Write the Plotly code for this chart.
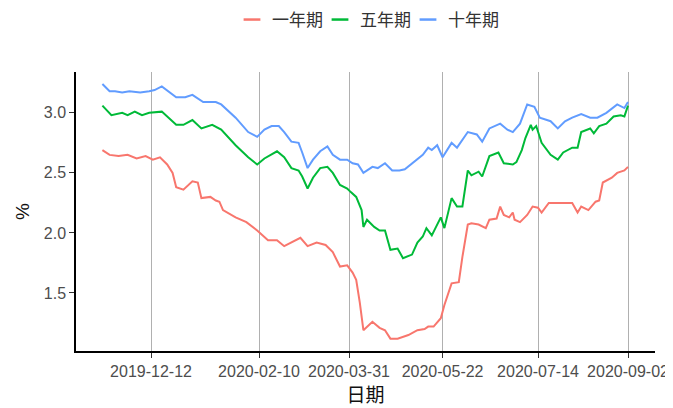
import plotly.graph_objects as go

# ---- data ----
dates_1y = ["2019-11-15","2019-11-19","2019-11-24","2019-11-29","2019-12-04","2019-12-09","2019-12-13","2019-12-17",
            "2019-12-21","2019-12-24","2019-12-26","2019-12-30","2020-01-04","2020-01-07","2020-01-09","2020-01-14",
            "2020-01-17","2020-01-19","2020-01-21","2020-01-28","2020-02-03","2020-02-09","2020-02-15","2020-02-20",
            "2020-02-24","2020-02-29","2020-03-04","2020-03-08","2020-03-13","2020-03-18","2020-03-22","2020-03-26",
            "2020-03-30","2020-04-02","2020-04-04","2020-04-06","2020-04-08","2020-04-13","2020-04-17","2020-04-20",
            "2020-04-23","2020-04-27","2020-04-29","2020-05-03","2020-05-08","2020-05-12","2020-05-14","2020-05-17",
            "2020-05-21","2020-05-23","2020-05-27","2020-05-31","2020-06-02","2020-06-05","2020-06-07","2020-06-11",
            "2020-06-15","2020-06-17","2020-06-21","2020-06-23","2020-06-25","2020-06-28","2020-06-30","2020-07-01",
            "2020-07-04","2020-07-08","2020-07-11","2020-07-14","2020-07-16","2020-07-20","2020-07-25","2020-07-29",
            "2020-08-02","2020-08-05","2020-08-07","2020-08-11","2020-08-15","2020-08-17","2020-08-19","2020-08-24",
            "2020-08-27","2020-08-31","2020-09-02"]
vals_1y = [2.69,2.65,2.64,2.65,2.62,2.64,2.61,2.63,
           2.57,2.50,2.38,2.36,2.43,2.42,2.29,2.30,
           2.27,2.26,2.19,2.13,2.09,2.02,1.94,1.94,
           1.89,1.93,1.96,1.89,1.92,1.90,1.84,1.72,
           1.73,1.67,1.61,1.42,1.19,1.26,1.21,1.19,
           1.12,1.12,1.13,1.15,1.19,1.20,1.22,1.22,
           1.29,1.40,1.58,1.59,1.80,2.07,2.08,2.07,
           2.04,2.11,2.12,2.22,2.15,2.13,2.17,2.11,
           2.09,2.15,2.22,2.21,2.17,2.25,2.25,2.25,
           2.25,2.17,2.22,2.19,2.26,2.27,2.42,2.46,
           2.50,2.52,2.55]

dates_5y = ["2019-11-15","2019-11-20","2019-11-26","2019-11-29","2019-12-03","2019-12-07","2019-12-11","2019-12-18",
            "2019-12-26","2019-12-30","2020-01-04","2020-01-09","2020-01-15","2020-01-20","2020-01-28","2020-02-04",
            "2020-02-09","2020-02-13","2020-02-20","2020-02-24","2020-02-28","2020-03-03","2020-03-05","2020-03-08",
            "2020-03-11","2020-03-15","2020-03-19","2020-03-22","2020-03-26","2020-03-30","2020-04-01","2020-04-04",
            "2020-04-07","2020-04-08","2020-04-10","2020-04-14","2020-04-17","2020-04-20","2020-04-23","2020-04-27",
            "2020-04-30","2020-05-05","2020-05-08","2020-05-11","2020-05-13","2020-05-16","2020-05-21","2020-05-23",
            "2020-05-27","2020-05-30","2020-06-02","2020-06-05","2020-06-07","2020-06-11","2020-06-13","2020-06-17",
            "2020-06-22","2020-06-25","2020-06-30","2020-07-02","2020-07-05","2020-07-07","2020-07-10","2020-07-11",
            "2020-07-13","2020-07-16","2020-07-21","2020-07-25","2020-07-28","2020-08-02","2020-08-05","2020-08-07",
            "2020-08-12","2020-08-14","2020-08-17","2020-08-21","2020-08-25","2020-08-29","2020-08-31","2020-09-02"]
vals_5y = [3.06,2.98,3.00,2.98,3.01,2.98,3.00,3.01,
           2.90,2.90,2.94,2.87,2.90,2.86,2.73,2.63,
           2.57,2.62,2.68,2.63,2.54,2.52,2.47,2.37,
           2.46,2.54,2.55,2.50,2.40,2.37,2.34,2.30,
           2.19,2.05,2.11,2.05,2.02,2.02,1.86,1.87,
           1.79,1.82,1.92,1.97,2.04,1.98,2.13,2.04,
           2.29,2.22,2.22,2.52,2.48,2.51,2.47,2.64,
           2.67,2.58,2.57,2.59,2.69,2.79,2.90,2.86,
           2.89,2.75,2.65,2.61,2.67,2.71,2.71,2.84,
           2.87,2.83,2.89,2.91,2.97,2.98,2.97,3.06]

dates_10y = ["2019-11-15","2019-11-19","2019-11-22","2019-11-26","2019-11-30","2019-12-06","2019-12-11","2019-12-14",
             "2019-12-18","2019-12-23","2019-12-26","2019-12-31","2020-01-04","2020-01-10","2020-01-17","2020-01-20",
             "2020-01-28","2020-02-04","2020-02-09","2020-02-13","2020-02-17","2020-02-21","2020-02-24","2020-02-28",
             "2020-03-03","2020-03-05","2020-03-08","2020-03-11","2020-03-15","2020-03-19","2020-03-22","2020-03-26",
             "2020-03-30","2020-04-02","2020-04-05","2020-04-08","2020-04-13","2020-04-16","2020-04-20","2020-04-24",
             "2020-04-28","2020-05-01","2020-05-05","2020-05-08","2020-05-11","2020-05-14","2020-05-16","2020-05-19",
             "2020-05-22","2020-05-27","2020-05-30","2020-06-05","2020-06-10","2020-06-13","2020-06-17","2020-06-23",
             "2020-06-27","2020-06-30","2020-07-04","2020-07-08","2020-07-12","2020-07-15","2020-07-21","2020-07-25",
             "2020-07-29","2020-08-02","2020-08-07","2020-08-12","2020-08-16","2020-08-21","2020-08-27","2020-08-31",
             "2020-09-02"]
vals_10y = [3.24,3.18,3.18,3.17,3.18,3.17,3.18,3.19,
            3.22,3.16,3.13,3.13,3.15,3.09,3.09,3.07,
            2.96,2.84,2.80,2.86,2.89,2.89,2.84,2.76,
            2.75,2.67,2.54,2.61,2.68,2.72,2.65,2.61,
            2.61,2.58,2.57,2.50,2.55,2.54,2.58,2.52,
            2.52,2.53,2.58,2.62,2.65,2.71,2.69,2.73,
            2.63,2.75,2.71,2.84,2.82,2.76,2.87,2.91,
            2.86,2.84,2.91,3.07,3.05,2.96,2.93,2.87,
            2.93,2.96,2.99,2.96,2.96,3.00,3.07,3.04,
            3.09]

series_names = ["一年期", "五年期", "十年期"]
series_colors = ["#F8766D", "#00BA38", "#619CFF"]

x_tick_vals = ["2019-12-12", "2020-02-10", "2020-03-31", "2020-05-22", "2020-07-14", "2020-09-02"]
y_tick_vals = [1.5, 2.0, 2.5, 3.0]
y_tick_text = ["1.5", "2.0", "2.5", "3.0"]

FONT = "Liberation Sans, Arial, Noto Sans CJK SC, sans-serif"

fig = go.Figure()
for name, color, xs, ys in zip(series_names, series_colors,
                               [dates_1y, dates_5y, dates_10y],
                               [vals_1y, vals_5y, vals_10y]):
    fig.add_trace(go.Scatter(x=xs, y=ys, mode="lines", name=name,
                             line=dict(color=color, width=2), showlegend=False))
    # legend entry with a short dash
    fig.add_trace(go.Scatter(x=[None], y=[None], mode="markers", name=name,
                             marker=dict(symbol="line-ew", size=12, color=color,
                                         line=dict(color=color, width=2.5)),
                             showlegend=True))
# empty trailing legend slot so the last (narrow-entry) label is not clipped
fig.add_trace(go.Scatter(x=[None], y=[None], mode="markers", name=" ",
                         marker=dict(size=1, color="rgba(0,0,0,0)"),
                         showlegend=True, hoverinfo="skip"))

# the page body adds an 8 px offset, so the figure is 8 px smaller each way
W, H = 665, 400
fig.update_layout(
    width=W, height=H,
    margin=dict(l=68, r=18, t=64, b=57, autoexpand=False),
    paper_bgcolor="white", plot_bgcolor="white",
    font=dict(family=FONT, size=15, color="#4D4D4D"),
    legend=dict(orientation="h", x=224 / W, xanchor="left", xref="container",
                y=1 - 12 / H, yanchor="middle", yref="container",
                font=dict(size=17, color="#333333"), itemwidth=30,
                entrywidth=43, entrywidthmode="pixels",
                tracegroupgap=0, itemsizing="trace"),
    xaxis=dict(
        type="date", automargin=False,
        range=["2019-10-31 08:00", "2020-09-17"],
        tickvals=x_tick_vals, tickformat="%Y-%m-%d",
        showgrid=True, gridcolor="#B0B0B0", gridwidth=1.3,
        zeroline=False,
        showline=True, linecolor="black", linewidth=1.5,
        ticks="outside", ticklen=5, tickcolor="#333333", tickwidth=1.3,
        tickfont=dict(size=16, color="#4D4D4D"),
        title=dict(text="日期", font=dict(size=19, color="#111111"), standoff=10),
    ),
    yaxis=dict(
        range=[1.017, 3.34], automargin=False,
        tickvals=y_tick_vals, ticktext=y_tick_text,
        showgrid=False, zeroline=False,
        showline=True, linecolor="black", linewidth=1.5,
        ticks="outside", ticklen=5, tickcolor="#333333", tickwidth=1.3,
        tickfont=dict(size=16, color="#4D4D4D"),
        title=dict(text="%", font=dict(size=19, color="#111111"), standoff=9),
    ),
)

fig.write_html("out.html")
